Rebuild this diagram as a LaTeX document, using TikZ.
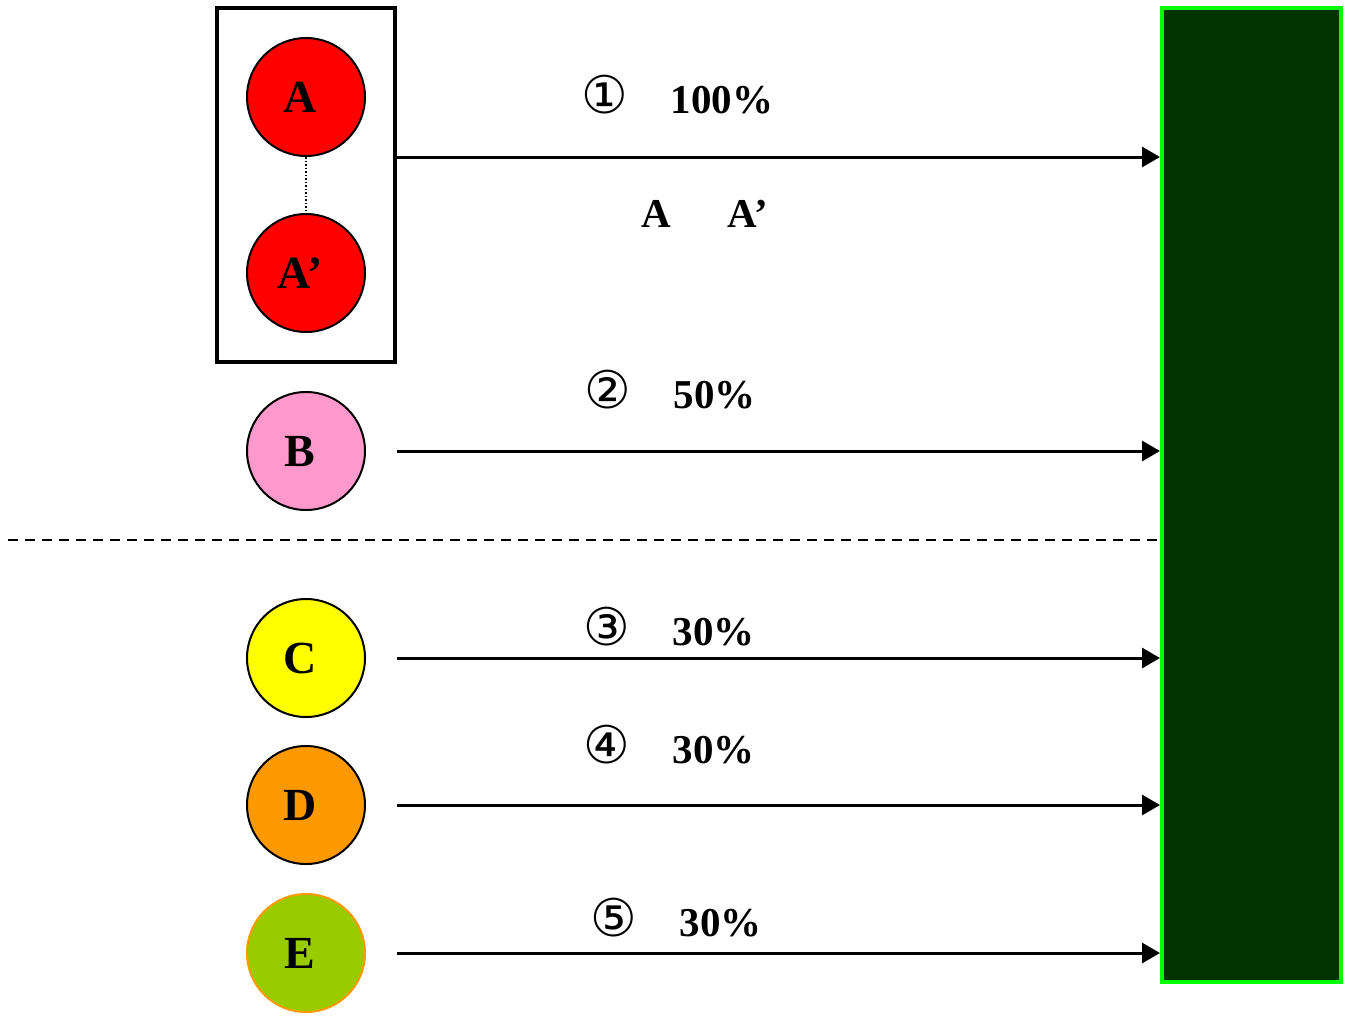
\documentclass[tikz,border=0pt]{standalone}
\usepackage{fontspec}
\setmainfont{Liberation Serif}
\newfontfamily\circfont{DejaVu Sans}
\usetikzlibrary{arrows.meta}
\definecolor{myred}{RGB}{255,0,0}
\definecolor{mypink}{RGB}{255,153,204}
\definecolor{myyellow}{RGB}{255,255,0}
\definecolor{myorange}{RGB}{255,153,0}
\definecolor{myolive}{RGB}{153,204,0}
\definecolor{mylime}{RGB}{0,255,0}
\definecolor{mydkgreen}{RGB}{0,51,0}
\tikzset{>={Triangle[length=18pt,width=20pt]}}
\tikzset{
  ball/.style={circle, draw, line width=2pt, minimum size=118pt, inner sep=0pt,
    font=\fontsize{46}{46}\selectfont\bfseries, execute at begin node={\hspace*{-12pt}}},
  flow/.style={line width=3pt, ->},
  lbl/.style={font=\fontsize{41}{41}\selectfont\bfseries},
  num/.style={font=\fontsize{52}{52}\selectfont\circfont}
}

\begin{document}
\begin{tikzpicture}[x=1pt, y=-1pt]
\useasboundingbox (0,0) rectangle (1348,1017);
% group box and the two A circles
\node[draw, line width=4pt, minimum width=178pt, minimum height=354pt] (grp) at (306,185) {};
\node[ball, fill=myred] (a) at (306,97) {A};
\node[ball, fill=myred] (a2) at (306,273) {A’};
\draw[dotted, line width=1.5pt] (a) -- (a2);
\node[ball, fill=mypink] (b) at (306,451) {B};
\node[ball, fill=myyellow] (c) at (306,658) {C};
\node[ball, fill=myorange] (d) at (306,805) {D};
\node[ball, fill=myolive, draw=myorange] (e) at (306,953) {E};
% target
\node[draw=mylime, fill=mydkgreen, line width=4pt, minimum width=179pt, minimum height=974pt, inner sep=0pt] (tgt) at (1251.5,495) {};
% flows
\draw[flow] (a.south -| grp.east) -- (a.south -| tgt.west);
\foreach \s in {b, c, d, e}{
\draw[flow] (\s -| grp.east) -- (\s -| tgt.west);
}
\draw[dashed, dash pattern=on 10pt off 7pt, line width=2pt] (8,540) -- (1160,540);
% labels
\foreach \n / \x / \y / \p in {① / 605 / 95 / 100\%, ② / 608 / 390 / 50\%, ③ / 607 / 627 / 30\%, ④ / 607 / 745 / 30\%, ⑤ / 614 / 918 / 30\%}{
\node[num] (n\x\y) at (\x, \y) {\n};
\node[lbl, anchor=west] (p\x\y) at (\x + 62, \y + 5) {\p};
}
\node[lbl] (la) at (656,214) {A};
\node[lbl] (la2) at (748,214) {A’};
\end{tikzpicture}
\end{document}
